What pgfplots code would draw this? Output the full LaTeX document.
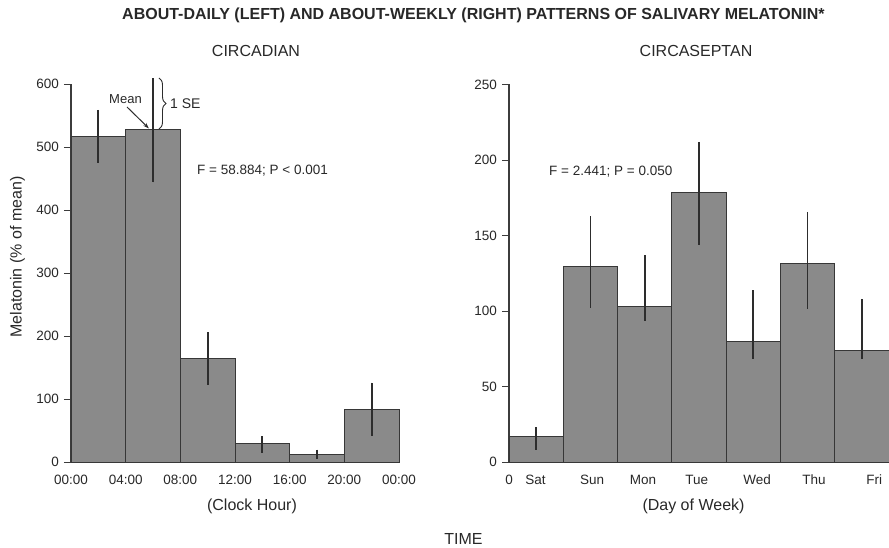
\documentclass[border=0pt]{standalone}
\usepackage{pgfplots}
\pgfplotsset{compat=1.18}
\usepackage{pgfplotstable}
\usepackage{fontspec}
\setmainfont{Liberation Sans}
\usetikzlibrary{decorations.pathreplacing,arrows.meta}
\definecolor{barfill}{RGB}{138,138,138}
\definecolor{baredge}{RGB}{55,55,55}
\definecolor{axisc}{RGB}{60,60,60}
\definecolor{txt}{RGB}{40,40,40}
\definecolor{errc}{RGB}{45,45,45}

\pgfplotstableread{
x y ep em
2 517 42 42
6 527 82 83
10 164 42 41
14 29 12 14
18 11.6 8 6.6
22 83 43 41
}\leftdata

\pgfplotstableread{
x y ep em
0.5 16.6 6.4 8.4
1.5 129.4 33.3 27.4
2.5 103 34 9.4
3.5 178.4 33.6 34.7
4.5 79.7 34 11.3
5.5 131.6 34 30
6.5 74 34 5.6
}\rightdata

\pgfplotsset{
  mychart/.style={
    scale only axis,
    enlargelimits=false,
    clip=false,
    axis x line*=bottom,
    axis y line*=left,
    axis line style={line width=1.2pt, color=axisc},
    tick align=outside,
    major tick length=7pt,
    x tick style={draw=none},
    y tick style={line width=1pt, color=axisc},
    ticklabel style={font=\fontsize{13.5}{16}\selectfont, text=txt},
    yticklabel style={inner sep=0pt, xshift=-5pt},
    xticklabel style={inner sep=0pt, text height=10pt, text depth=0pt, yshift=-5pt},
    /pgf/number format/assume math mode=true,
    ybar, bar shift=0pt,
  },
  mybars/.style={
    fill=barfill, draw=baredge, line width=1pt,
    error bars/.cd, y dir=both, y explicit, error mark=none,
    error bar style={line width=1.8pt, color=errc},
  },
}

\begin{document}
\begin{tikzpicture}[x=1pt,y=1pt]
% left axis
\begin{axis}[mychart,
  at={(71pt,85pt)}, anchor=south west,
  width=328pt, height=378pt,
  xmin=0, xmax=24, ymin=0, ymax=600,
  bar width=4,
  xtick={0,4,8,12,16,20,24},
  xticklabels={00:00,04:00,08:00,12:00,16:00,20:00,00:00},
  ytick={0,100,200,300,400,500,600},
]
\addplot[mybars] table[x=x,y=y,y error plus=ep,y error minus=em] {\leftdata};
\end{axis}
% right axis
\begin{axis}[mychart,
  at={(509pt,85pt)}, anchor=south west,
  width=380pt, height=377.5pt,
  xmin=0, xmax=7, ymin=0, ymax=250,
  bar width=1,
  xtick={0,0.49,1.53,2.47,3.46,4.57,5.62,6.73},
  xticklabels={0,Sat,Sun,Mon,Tue,Wed,Thu,Fri},
  ytick={0,50,100,150,200,250},
]
\addplot[mybars] table[x=x,y=y,y error plus=ep,y error minus=em] {\rightdata};
\end{axis}

% texts
\begin{scope}[every node/.style={text=txt, inner sep=0pt}]
\node[anchor=base west, font=\bfseries\fontsize{16}{19}\selectfont] at (122,527)
  {ABOUT-DAILY (LEFT) AND ABOUT-WEEKLY (RIGHT) PATTERNS OF SALIVARY MELATONIN*};
\node[anchor=base, font=\fontsize{16}{19}\selectfont] at (256,490.3) {CIRCADIAN};
\node[anchor=base, font=\fontsize{16}{19}\selectfont] at (696,490.3) {CIRCASEPTAN};
\node[anchor=base, rotate=90, font=\fontsize{16}{19}\selectfont] at (21.5,290) {Melatonin (\% of mean)};
\node[anchor=base, font=\fontsize{16}{19}\selectfont] at (252,36.5) {(Clock Hour)};
\node[anchor=base, font=\fontsize{16}{19}\selectfont] at (693.5,36.5) {(Day of Week)};
\node[anchor=base, font=\fontsize{16}{19}\selectfont] at (463.5,2.5) {TIME};
\node[anchor=base, font=\fontsize{13}{15}\selectfont] at (125.5,443) {Mean};
\node[anchor=base west, font=\fontsize{14}{16}\selectfont] at (170,438.7) {1 SE};
\node[anchor=base west, font=\fontsize{13.5}{16}\selectfont] at (197,372) {F = 58.884; P < 0.001};
\node[anchor=base west, font=\fontsize{13.5}{16}\selectfont] at (549,371) {F = 2.441; P = 0.050};
\end{scope}
\draw[errc, line width=1pt, -{Stealth[length=6pt,width=4pt]}] (127,440) -- (149,418.5);
\draw[errc, line width=0.9pt, decorate, decoration={brace, amplitude=7pt}] (159,469) -- (159,418);

\pgfresetboundingbox
\useasboundingbox (0,0) rectangle (889,547);
\end{tikzpicture}
\end{document}
